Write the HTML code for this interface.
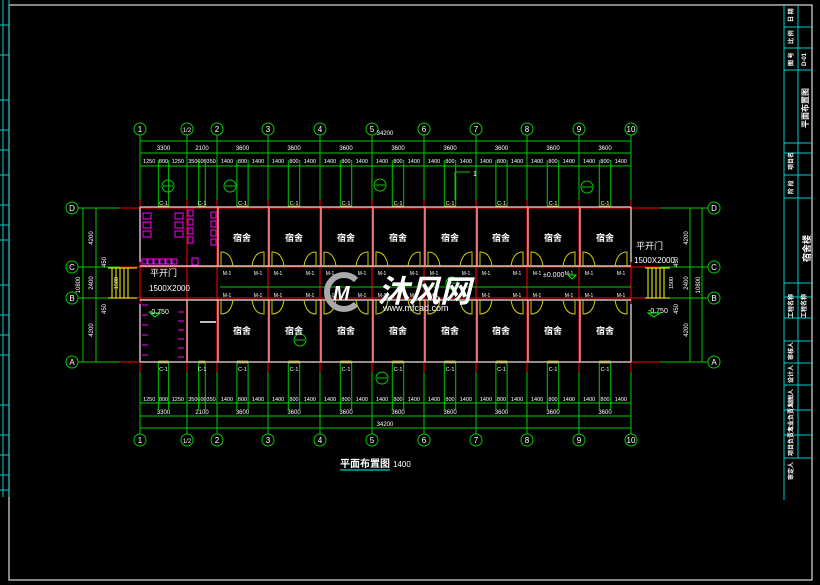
<!DOCTYPE html>
<html><head><meta charset="utf-8"><style>
html,body{margin:0;padding:0;background:#000;width:820px;height:585px;overflow:hidden}
svg{display:block}
text{font-family:"Liberation Sans","Noto Sans CJK SC",sans-serif;fill:#fff}
</style></head><body>
<svg id="s" width="820" height="585" viewBox="0 0 820 585" xmlns="http://www.w3.org/2000/svg">
<rect width="820" height="585" fill="#000"/>
<rect x="9" y="5" width="803" height="575" fill="none" stroke="#ddd" stroke-width="1.2"/>
<g stroke="#0cc" stroke-width="1" fill="none">
<line x1="3" y1="0" x2="3" y2="497"/><line x1="9" y1="0" x2="9" y2="497"/>
<line x1="0" y1="25" x2="9" y2="25"/><line x1="0" y1="55" x2="9" y2="55"/><line x1="0" y1="100" x2="9" y2="100"/>
<line x1="0" y1="130" x2="9" y2="130"/><line x1="0" y1="150" x2="9" y2="150"/><line x1="0" y1="175" x2="9" y2="175"/>
<line x1="0" y1="205" x2="9" y2="205"/><line x1="0" y1="225" x2="9" y2="225"/><line x1="0" y1="240" x2="9" y2="240"/>
<line x1="0" y1="285" x2="9" y2="285"/><line x1="0" y1="315" x2="9" y2="315"/><line x1="0" y1="335" x2="9" y2="335"/>
<line x1="0" y1="355" x2="9" y2="355"/><line x1="0" y1="405" x2="9" y2="405"/><line x1="0" y1="435" x2="9" y2="435"/>
<line x1="0" y1="455" x2="9" y2="455"/><line x1="0" y1="475" x2="9" y2="475"/><line x1="0" y1="490" x2="9" y2="490"/>
<line x1="784" y1="5" x2="784" y2="500"/><line x1="798" y1="5" x2="798" y2="458"/>
<line x1="784" y1="27" x2="812" y2="27"/><line x1="784" y1="48" x2="812" y2="48"/><line x1="784" y1="70" x2="812" y2="70"/>
<line x1="784" y1="143" x2="812" y2="143"/><line x1="784" y1="153" x2="812" y2="153"/><line x1="784" y1="175" x2="812" y2="175"/>
<line x1="784" y1="198" x2="812" y2="198"/><line x1="784" y1="283" x2="812" y2="283"/><line x1="784" y1="297" x2="812" y2="297"/>
<line x1="784" y1="318" x2="812" y2="318"/><line x1="784" y1="341" x2="812" y2="341"/><line x1="784" y1="363" x2="812" y2="363"/>
<line x1="784" y1="385" x2="812" y2="385"/><line x1="784" y1="410" x2="812" y2="410"/><line x1="784" y1="435" x2="812" y2="435"/>
<line x1="784" y1="458" x2="812" y2="458"/>
</g>
<g font-size="6" font-weight="bold">
<text transform="translate(793,22) rotate(-90)">日 期</text>
<text transform="translate(793,44) rotate(-90)">比 例</text>
<text transform="translate(793,66) rotate(-90)">图 号</text>
<text transform="translate(806,66) rotate(-90)">D-01</text>
<text transform="translate(808,128) rotate(-90)" font-size="8">平面布置图</text>
<text transform="translate(793,170) rotate(-90)">项目名</text>
<text transform="translate(793,194) rotate(-90)">阶 段</text>
<text transform="translate(810,262) rotate(-90)" font-size="9">宿舍楼</text>
<text transform="translate(793,318) rotate(-90)">工程名称</text>
<text transform="translate(806,318) rotate(-90)">工程名称</text>
<text transform="translate(793,360) rotate(-90)">审核人</text>
<text transform="translate(793,383) rotate(-90)">设计人</text>
<text transform="translate(793,407) rotate(-90)">制图人</text>
<text transform="translate(793,432) rotate(-90)">专业负责人</text>
<text transform="translate(793,456) rotate(-90)">项目负责人</text>
<text transform="translate(793,480) rotate(-90)">审定人</text>
</g>
<g id="dyn"></g>
<g font-size="9" text-anchor="middle" font-weight="bold">
<text x="242" y="241">宿舍</text><text x="294" y="241">宿舍</text><text x="346" y="241">宿舍</text><text x="398" y="241">宿舍</text>
<text x="450" y="241">宿舍</text><text x="501" y="241">宿舍</text><text x="553" y="241">宿舍</text><text x="605" y="241">宿舍</text>
<text x="242" y="334">宿舍</text><text x="294" y="334">宿舍</text><text x="346" y="334">宿舍</text><text x="398" y="334">宿舍</text>
<text x="450" y="334">宿舍</text><text x="501" y="334">宿舍</text><text x="553" y="334">宿舍</text><text x="605" y="334">宿舍</text>
</g>
<g font-size="9">
<text x="150" y="276">平开门</text><text x="149" y="291" font-size="8">1500X2000</text>
<text x="636" y="249">平开门</text><text x="634" y="263" font-size="8">1500X2000</text>
</g>
<g font-size="7">
<text x="149" y="314" fill="#0f0">-0.750</text><text x="648" y="313" fill="#0f0">-0.750</text>
<text x="543" y="277" fill="#0f0">±0.000</text>
</g>
<text x="340" y="467" font-size="10" font-weight="bold">平面布置图</text>
<text x="393" y="467" font-size="8">1400</text>
<line x1="340" y1="470" x2="390" y2="470" stroke="#0cc" stroke-width="1.2"/>
<g>
<path d="M356 280 A17 17 0 1 0 356 304" fill="none" stroke="#aaa" stroke-width="6"/>
<text x="333" y="300" font-size="20" font-weight="bold" font-style="italic" fill="#ccc">M</text>
<text x="378" y="302" font-size="31" font-weight="bold" font-style="italic" fill="#b0b0b0">沐风网</text>
<text x="383" y="311" font-size="9" fill="#aaa">www.mfcad.com</text>
</g>
</svg>
<script>
var g=document.getElementById('dyn'),h='';
function L(a,b,c,d,col,w){h+='<line x1="'+a+'" y1="'+b+'" x2="'+c+'" y2="'+d+'" stroke="'+col+'" stroke-width="'+(w||1)+'"/>';}
function T(x,y,t,sz,anc,col,rot){h+='<text x="'+x+'" y="'+y+'" font-size="'+(sz||6)+'" text-anchor="'+(anc||'middle')+'"'+(col?' fill="'+col+'"':'')+(rot?' transform="rotate(-90 '+x+' '+y+')"':'')+'>'+t+'</text>';}
function C(x,y,r,col){h+='<circle cx="'+x+'" cy="'+y+'" r="'+r+'" fill="none" stroke="'+col+'" stroke-width="1"/>';}
var X=[140,187,217,268,320,372,424,476,527,579,631],N=['1','1/2','2','3','4','5','6','7','8','9','10'];
var G='#0c0',R='#c00',W='#bbb';
X.forEach(function(x,i){C(x,129,6,G);T(x,132,N[i],i==1?6:8);C(x,440,6,G);T(x,443,N[i],i==1?6:8);
 L(x,135,x,200,G);L(x,372,x,434,G);L(x,200,x,372,R,1.3);});
[141,153,166].forEach(function(y){L(140,y,631,y,G);});
[403,416,428].forEach(function(y){L(140,y,631,y,G);});
T(385,135,'34200',6);T(385,426,'34200',6);
for(var i=0;i<10;i++){var a=X[i],b=X[i+1],m=(a+b)/2;var lab=(i==0?'3300':i==1?'2100':'3600');T(m,150,lab,6);T(m,414,lab,6);
 var ww=(b-a)*0.22;var w1=m-ww/2,w2=m+ww/2;
 var s=(i==0?['1250','800','1250']:i==1?['350','600','350']:['1400','800','1400']);
 T((a+w1)/2,163,s[0],5.5);T(m,163,s[1],5.5);T((w2+b)/2,163,s[2],5.5);
 T((a+w1)/2,401,s[0],5.5);T(m,401,s[1],5.5);T((w2+b)/2,401,s[2],5.5);
 L(w1,160,w1,207,G);L(w2,160,w2,207,G);L(w1,362,w1,410,G);L(w2,362,w2,410,G);
 L(w1,207,w2,207,'#ff0',2.5);L(w1,362,w2,362,'#ff0',2.5);T(m,205,'C-1',5.5);T(m,371,'C-1',5.5);
}
var Y=[208,267,298,362],RN=['D','C','B','A'];
Y.forEach(function(y,i){C(72,y,6,G);T(72,y+3,RN[i],8);C(714,y,6,G);T(714,y+3,RN[i],8);
 L(78,y,140,y,G);L(631,y,708,y,G);L(120,y,660,y,R,1.2);});
L(83,208,83,362,G);L(96,208,96,362,G);L(690,208,690,362,G);L(702,208,702,362,G);
T(80,285,'10800',6,'middle',null,1);T(93,238,'4200',6,'middle',null,1);T(93,283,'2400',6,'middle',null,1);T(93,330,'4200',6,'middle',null,1);
T(106,262,'450',6,'middle',null,1);T(106,309,'450',6,'middle',null,1);T(118,283,'1500',5.5,'middle',null,1);
T(700,285,'10800',6,'middle',null,1);T(688,238,'4200',6,'middle',null,1);T(688,283,'2400',6,'middle',null,1);T(688,330,'4200',6,'middle',null,1);
T(678,262,'450',6,'middle',null,1);T(678,309,'450',6,'middle',null,1);T(673,283,'1500',5.5,'middle',null,1);
L(140,207,631,207,W,1.5);L(140,362,631,362,W,1.5);
L(140,266,631,266,'#eee',1.3);L(140,300,631,300,'#eee',1.3);
L(140,207,140,262,W,1.5);L(140,304,140,362,W,1.5);L(631,207,631,262,W,1.5);L(631,304,631,362,W,1.5);
for(var i=2;i<10;i++){L(X[i]+1,207,X[i]+1,266,'#f99',1.5);L(X[i]+1,300,X[i]+1,362,'#f99',1.5);}
L(187,300,187,362,'#f99',1.5);
for(var i=2;i<10;i++){[X[i]+4,X[i+1]-4].forEach(function(x,k){var d=k?-1:1;
 h+='<path d="M'+(x+d*12)+' 266 Q'+(x+d*10)+' 252 '+x+' 252 L'+x+' 266" fill="none" stroke="#cc0"/>';
 h+='<path d="M'+(x+d*12)+' 300 Q'+(x+d*10)+' 314 '+x+' 314 L'+x+' 300" fill="none" stroke="#cc0"/>';
 T(x+d*6,275,'M-1',5);T(x+d*6,297,'M-1',5);});}
L(220,287,631,287,G);
for(var k=0;k<5;k++){L(112+k*4,268,112+k*4,298,'#ff0');L(648+k*4,268,648+k*4,298,'#ff0');}
L(108,268,137,268,'#ff0');L(108,298,137,298,'#ff0');L(645,268,670,268,'#ff0');L(645,298,670,298,'#ff0');
var M='#f0f';
for(var k=0;k<3;k++){h+='<rect x="143" y="'+(213+k*9)+'" width="8" height="6" fill="none" stroke="'+M+'"/>';
 h+='<rect x="175" y="'+(213+k*9)+'" width="8" height="6" fill="none" stroke="'+M+'"/>';}
for(var k=0;k<4;k++){h+='<rect x="188" y="'+(210+k*9)+'" width="5" height="6" fill="none" stroke="'+M+'"/>';
 h+='<rect x="211" y="'+(212+k*9)+'" width="5" height="6" fill="none" stroke="'+M+'"/>';}
for(var k=0;k<6;k++){h+='<rect x="'+(142+k*6)+'" y="259" width="5" height="5" fill="none" stroke="'+M+'"/>';}
h+='<rect x="192" y="258" width="6" height="7" fill="none" stroke="'+M+'"/>';
for(var k=0;k<6;k++){L(142,305+k*10,148,305+k*10,M);L(178,312+k*9,184,312+k*9,M);}
L(200,322,216,322,'#fff',1.5);
[[168,186],[230,186],[380,185],[587,187],[382,378],[300,340],[452,283]].forEach(function(p){C(p[0],p[1],6,G);L(p[0]-5,p[1],p[0]+5,p[1],G);});
L(455,172,455,200,G);L(455,172,470,172,G);T(475,176,'1',7,'middle','#0f0');
h+='<path d="M568 275 L576 275 L572 279 Z M648 313 L660 313 L654 317 Z M150 313 L160 313 L155 317 Z" fill="none" stroke="#0f0"/>';
g.innerHTML=h;
</script>
</body></html>
